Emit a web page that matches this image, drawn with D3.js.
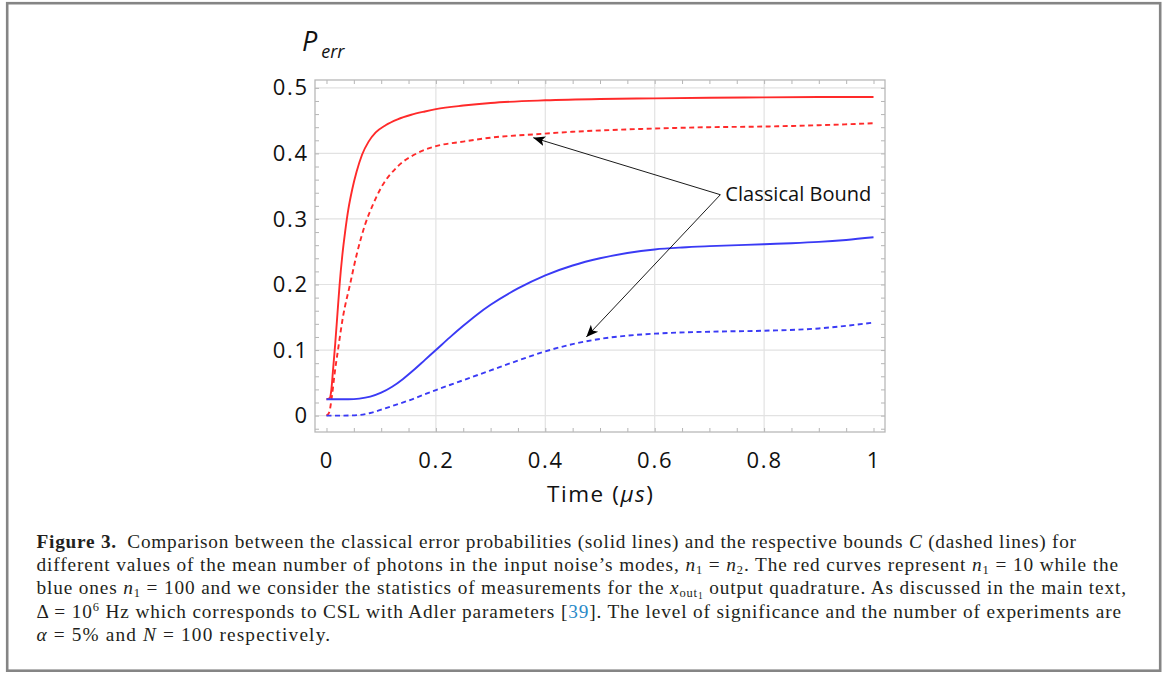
<!DOCTYPE html>
<html>
<head>
<meta charset="utf-8">
<script src="https://cdn.jsdelivr.net/npm/d3@7"></script>
<style>
  html, body { margin: 0; padding: 0; background: #fff; }
  svg { display: block; }
</style>
</head>
<body>
<svg id="chart" width="1174" height="673"></svg>
<script>
// ---------------- DATA ----------------
const xTicks = [0, 0.2, 0.4, 0.6, 0.8, 1];
const xTickLabels = ["0", "0.2", "0.4", "0.6", "0.8", "1"];
const yTicks = [0, 0.1, 0.2, 0.3, 0.4, 0.5];
const yTickLabels = ["0", "0.1", "0.2", "0.3", "0.4", "0.5"];

// Red (n1 = 10), classical error probability (solid)
const redSolidT = [0, 0.006, 0.009, 0.012, 0.016, 0.02, 0.024, 0.029, 0.034, 0.04, 0.047, 0.055, 0.065, 0.077, 0.09, 0.108, 0.13, 0.155, 0.18, 0.2, 0.25, 0.3, 0.4, 0.5, 0.6, 0.7, 0.8, 0.9, 1.0];
const redSolidP = [0.025, 0.027, 0.04, 0.07, 0.11, 0.155, 0.2, 0.245, 0.28, 0.315, 0.345, 0.372, 0.398, 0.418, 0.432, 0.443, 0.452, 0.459, 0.464, 0.4675, 0.473, 0.477, 0.481, 0.483, 0.484, 0.485, 0.4855, 0.486, 0.486];
// Red (n1 = 10), classical bound (dashed)
const redDashT = [0, 0.005, 0.01, 0.015, 0.021, 0.03, 0.043, 0.055, 0.07, 0.085, 0.1, 0.13, 0.165, 0.2, 0.25, 0.3, 0.378, 0.45, 0.5, 0.6, 0.7, 0.8, 0.9, 1.0];
const redDashP = [0, 0.005, 0.03, 0.065, 0.1, 0.15, 0.2, 0.245, 0.29, 0.322, 0.348, 0.38, 0.4, 0.411, 0.418, 0.424, 0.429, 0.433, 0.435, 0.438, 0.44, 0.441, 0.443, 0.446];
// Blue (n1 = 100), classical error probability (solid)
const blueSolidT = [0, 0.04, 0.06, 0.08, 0.1, 0.12, 0.14, 0.16, 0.18, 0.2, 0.225, 0.25, 0.275, 0.3, 0.35, 0.4, 0.45, 0.5, 0.55, 0.6, 0.65, 0.7, 0.8, 0.85, 0.9, 0.95, 1.0];
const blueSolidP = [0.025, 0.025, 0.026, 0.029, 0.035, 0.044, 0.056, 0.07, 0.085, 0.1, 0.119, 0.137, 0.154, 0.169, 0.194, 0.214, 0.229, 0.240, 0.248, 0.2535, 0.2565, 0.2585, 0.2615, 0.263, 0.265, 0.268, 0.272];
// Blue (n1 = 100), classical bound (dashed)
const blueDashT = [0, 0.03, 0.06, 0.08, 0.1, 0.125, 0.15, 0.175, 0.2, 0.25, 0.3, 0.35, 0.4, 0.45, 0.5, 0.55, 0.6, 0.7, 0.8, 0.9, 0.95, 1.0];
const blueDashP = [0, 0.0, 0.001, 0.004, 0.009, 0.016, 0.023, 0.031, 0.039, 0.054, 0.069, 0.084, 0.098, 0.109, 0.117, 0.122, 0.125, 0.128, 0.1295, 0.133, 0.137, 0.142];

// Annotation (data coordinates)
const annotationLabel = "Classical Bound";
const annotationVertex = [0.72, 0.337];
const annotationTargets = [[0.378, 0.424], [0.475, 0.12]];

const yTitle = ["P", "err"];
const xTitle = ["Time (", "\u03bcs", ")"];

// Caption lines: segments [text, style]
const captionLines = [
  [["Figure 3.", "b"], ["\u2002Comparison between the classical error probabilities (solid lines) and the respective bounds ", ""], ["C", "i"], [" (dashed lines) for", ""]],
  [["different values of the mean number of photons in the input noise\u2019s modes, ", ""], ["n", "i"], ["1", "sub"], [" = ", ""], ["n", "i"], ["2", "sub"], [". The red curves represent ", ""], ["n", "i"], ["1", "sub"], [" = 10 while the", ""]],
  [["blue ones ", ""], ["n", "i"], ["1", "sub"], [" = 100 and we consider the statistics of measurements for the ", ""], ["x", "i"], ["out", "sub"], ["1", "subsub"], [" output quadrature. As discussed in the main text,", ""]],
  [["\u0394 = 10", ""], ["6", "sup"], [" Hz which corresponds to CSL with Adler parameters [", ""], ["39", "link"], ["]. The level of significance and the number of experiments are", ""]],
  [["\u03b1", "i"], [" = 5% and ", ""], ["N", "i"], [" = 100 respectively.", ""]]
];
const captionLineEnds = [1076, 1118, 1126, 1121, 330];

// ---------------- LAYOUT ----------------
const svg = d3.select("#chart");
const W = 1174, H = 673;
const plot = { left: 315, right: 885, top: 80, bottom: 432 };
const x = d3.scaleLinear().domain([-0.021, 1.021]).range([plot.left, plot.right]);
const y = d3.scaleLinear().domain([-0.025, 0.512]).range([plot.bottom, plot.top]);

const chartFont = "'Open Sans', 'DejaVu Sans', sans-serif";
const serif = "'Liberation Serif', 'DejaVu Serif', serif";
const RED = "#ff2a2a", BLUE = "#3a3af5";

svg.append("rect").attr("width", W).attr("height", H).attr("fill", "#fff");
// outer figure border
svg.append("rect").attr("x", 7.2).attr("y", 3.2).attr("width", 1153).attr("height", 667.5)
  .attr("fill", "none").attr("stroke", "#858585").attr("stroke-width", 2.6);

// gridlines
const g = svg.append("g");
g.selectAll("line.gx").data([0.2, 0.4, 0.6, 0.8]).join("line")
  .attr("x1", d => x(d)).attr("x2", d => x(d)).attr("y1", plot.top).attr("y2", plot.bottom)
  .attr("stroke", "#e2e2e2").attr("stroke-width", 1.2);
g.selectAll("line.gy").data(yTicks).join("line")
  .attr("y1", d => y(d)).attr("y2", d => y(d)).attr("x1", plot.left).attr("x2", plot.right)
  .attr("stroke", "#e2e2e2").attr("stroke-width", 1.2);

// minor ticks via axes (inside, both sides)
const xMinor = d3.range(0, 1.0001, 0.05);
const yMinor = d3.range(-0.02, 0.5001, 0.02);
const tickCol = "#b5b5b5";
function styleAxis(sel) {
  sel.select(".domain").remove();
  sel.selectAll(".tick line").attr("stroke", tickCol).attr("stroke-width", 1);
  sel.selectAll(".tick text").remove();
}
svg.append("g").attr("transform", `translate(0,${plot.bottom})`)
  .call(d3.axisTop(x).tickValues(xMinor).tickSize(4)).call(styleAxis);
svg.append("g").attr("transform", `translate(0,${plot.top})`)
  .call(d3.axisBottom(x).tickValues(xMinor).tickSize(4)).call(styleAxis);
svg.append("g").attr("transform", `translate(${plot.left},0)`)
  .call(d3.axisRight(y).tickValues(yMinor).tickSize(4)).call(styleAxis);
svg.append("g").attr("transform", `translate(${plot.right},0)`)
  .call(d3.axisLeft(y).tickValues(yMinor).tickSize(4)).call(styleAxis);

// frame
svg.append("rect").attr("x", plot.left).attr("y", plot.top)
  .attr("width", plot.right - plot.left).attr("height", plot.bottom - plot.top)
  .attr("fill", "none").attr("stroke", "#b8b8b8").attr("stroke-width", 1.3);

// tick labels
const xAx = svg.append("g").attr("transform", `translate(0,${plot.bottom})`)
  .call(d3.axisBottom(x).tickValues(xTicks).tickFormat((d, i) => xTickLabels[i]).tickSize(0).tickPadding(20));
xAx.select(".domain").remove();
xAx.selectAll("text").attr("font-family", chartFont).attr("font-size", 22).attr("fill", "#111")
  .attr("letter-spacing", 1.8);
const yAx = svg.append("g").attr("transform", `translate(${plot.left},0)`)
  .call(d3.axisLeft(y).tickValues(yTicks).tickFormat((d, i) => yTickLabels[i]).tickSize(0).tickPadding(6));
yAx.select(".domain").remove();
yAx.selectAll("text").attr("font-family", chartFont).attr("font-size", 22).attr("fill", "#111")
  .attr("letter-spacing", 1.8);

// axis titles
const xt = svg.append("text").attr("x", x(0.5)).attr("y", 502).attr("text-anchor", "middle")
  .attr("font-family", chartFont).attr("font-size", 22.5).attr("fill", "#111")
  .attr("textLength", 106).attr("lengthAdjust", "spacing");
xt.append("tspan").text(xTitle[0]);
xt.append("tspan").attr("font-style", "italic").text(xTitle[1]);
xt.append("tspan").text(xTitle[2]);
const yt = svg.append("text").attr("x", 302).attr("y", 51)
  .attr("font-family", chartFont).attr("font-style", "italic").attr("fill", "#111");
yt.append("tspan").attr("font-size", 27).text(yTitle[0]);
yt.append("tspan").attr("font-size", 18).attr("dx", 4).attr("dy", 7).text(yTitle[1]);

// curves
const line = d3.line().x(d => x(d[0])).y(d => y(d[1])).curve(d3.curveMonotoneX);
const series = [
  { t: redSolidT, p: redSolidP, color: RED, dash: null },
  { t: redDashT, p: redDashP, color: RED, dash: "5,3.5" },
  { t: blueSolidT, p: blueSolidP, color: BLUE, dash: null },
  { t: blueDashT, p: blueDashP, color: BLUE, dash: "5,3.5" }
];
svg.append("g").selectAll("path").data(series).join("path")
  .attr("d", s => line(s.t.map((t, i) => [t, s.p[i]])))
  .attr("fill", "none").attr("stroke", s => s.color).attr("stroke-width", 1.9)
  .attr("stroke-dasharray", s => s.dash);

// annotation arrows
const defs = svg.append("defs");
defs.append("marker").attr("id", "ah").attr("viewBox", "0 0 10 10").attr("refX", 10).attr("refY", 5)
  .attr("markerWidth", 12).attr("markerHeight", 12).attr("markerUnits", "userSpaceOnUse").attr("orient", "auto")
  .append("path").attr("d", "M0,0.8 L10,5 L0,9.2 L2.5,5 Z").attr("fill", "#000");
svg.append("g").selectAll("line").data(annotationTargets).join("line")
  .attr("x1", x(annotationVertex[0])).attr("y1", y(annotationVertex[1]))
  .attr("x2", d => x(d[0])).attr("y2", d => y(d[1]))
  .attr("stroke", "#000").attr("stroke-width", 0.9).attr("marker-end", "url(#ah)");
svg.append("text").attr("x", x(annotationVertex[0]) + 5).attr("y", y(annotationVertex[1]) + 6)
  .attr("font-family", chartFont).attr("font-size", 20).attr("fill", "#111")
  .attr("textLength", 146).attr("lengthAdjust", "spacing")
  .text(annotationLabel);

// caption
const capX = 36.5, capY0 = 548, capDY = 23.2;
captionLines.forEach((segs, li) => {
  const t = svg.append("text").attr("x", capX).attr("y", capY0 + li * capDY)
    .attr("font-family", serif).attr("font-size", 19.3).attr("fill", "#231f20");
  let shift = 0;
  segs.forEach(([txt, st]) => {
    const sp = t.append("tspan").text(txt);
    let target = 0;
    if (st === "b") sp.attr("font-weight", "bold");
    if (st === "i") sp.attr("font-style", "italic");
    if (st === "link") sp.attr("fill", "#2a8ac8");
    if (st === "sub") { sp.attr("font-size", 12.5); target = 3; }
    if (st === "subsub") { sp.attr("font-size", 9.5); target = 5; }
    if (st === "sup") { sp.attr("font-size", 12.5); target = -7; }
    if (target !== shift) { sp.attr("dy", target - shift); shift = target; }
  });
  if (captionLineEnds[li]) t.attr("textLength", captionLineEnds[li] - capX).attr("lengthAdjust", "spacing");
});
</script>
</body>
</html>
